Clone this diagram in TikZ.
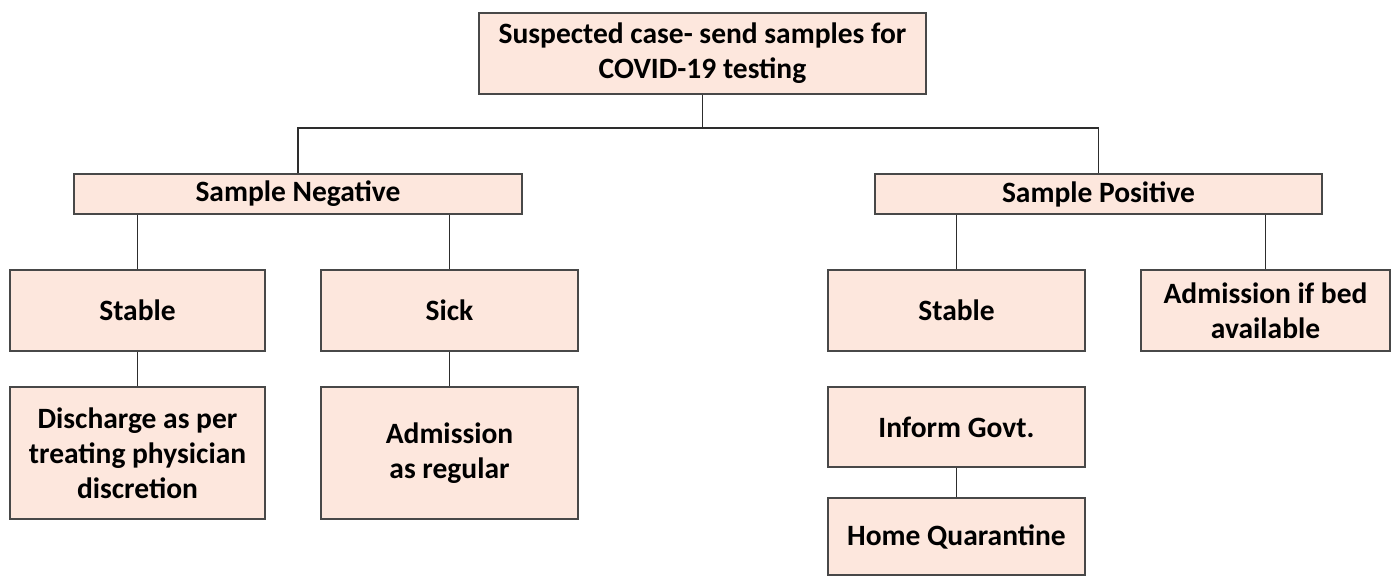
\documentclass[tikz,border=0pt]{standalone}
\usepackage{fontspec}
\setmainfont{Carlito}
\definecolor{boxfill}{RGB}{253,231,221}
\definecolor{boxline}{RGB}{72,72,72}
\definecolor{wire}{RGB}{45,45,45}
\begin{document}
\begin{tikzpicture}[x=1pt,y=-1pt,
  box/.style={draw=boxline, fill=boxfill, line width=1.4pt, inner sep=0pt,
    align=center, font=\bfseries\fontsize{29.5}{35}\selectfont},
  wire/.style={draw=wire, line width=1.3pt}]
\useasboundingbox (0,0) rectangle (1391,576);

% root
\node[box, minimum width=447pt, minimum height=81pt] (top) at (702.5,53.5)
  {Suspected case- send samples for\\COVID-19 testing};

% test result
\node[box, minimum width=448pt, minimum height=40pt] (neg) at (298,194) {Sample Negative};
\node[box, minimum width=447pt, minimum height=40pt] (pos) at (1098.5,194) {Sample Positive};

% negative branch
\node[box, minimum width=255pt, minimum height=81pt] (stN) at (137.5,310.5) {Stable};
\node[box, minimum width=257pt, minimum height=81pt] (sick) at (449.5,310.5) {Sick};
\node[box, minimum width=255pt, minimum height=132pt] (dis) at (137.5,453)
  {Discharge as per\\treating physician\\discretion};
\node[box, minimum width=257pt, minimum height=132pt] (admR) at (449.5,453)
  {Admission\\as regular};

% positive branch
\node[box, minimum width=257pt, minimum height=81pt] (stP) at (956.5,310.5) {Stable};
\node[box, minimum width=249pt, minimum height=81pt] (bed) at (1265.5,310.5)
  {Admission if bed\\available};
\node[box, minimum width=257pt, minimum height=80pt] (inf) at (956.5,427) {Inform Govt.};
\node[box, minimum width=257pt, minimum height=77pt] (home) at (956.5,536.5) {Home Quarantine};

% connectors
\draw[wire] (top.south) -- (top.south |- 0,128);
\draw[wire] (neg.north) |- (pos.north |- 0,128) -- (pos.north);
\draw[wire] (neg.south -| stN.north) -- (stN.north);
\draw[wire] (neg.south -| sick.north) -- (sick.north);
\draw[wire] (stN.south) -- (dis.north);
\draw[wire] (sick.south) -- (admR.north);
\draw[wire] (pos.south -| stP.north) -- (stP.north);
\draw[wire] (pos.south -| bed.north) -- (bed.north);
\draw[wire] (inf.south) -- (home.north);
\end{tikzpicture}
\end{document}
